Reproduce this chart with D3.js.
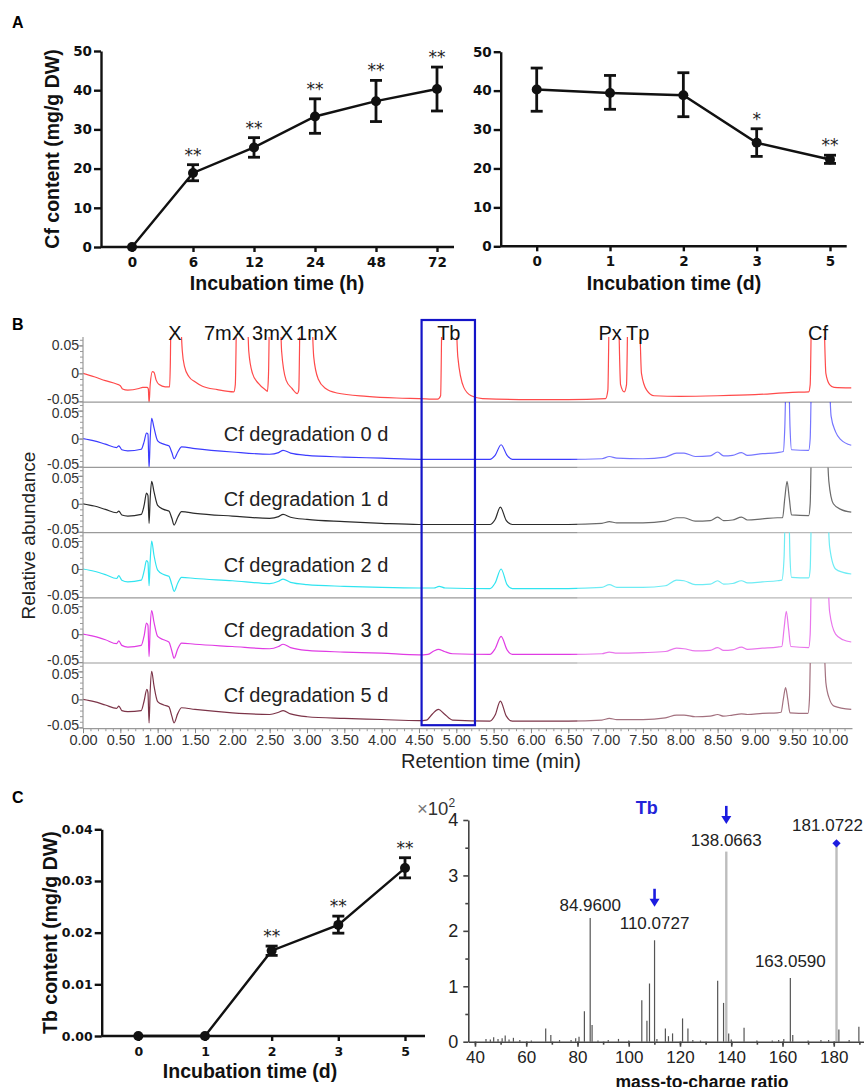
<!DOCTYPE html>
<html>
<head>
<meta charset="utf-8">
<script src="https://d3js.org/d3.v7.min.js"></script>
<style>
  body { margin: 0; background: #fff; }
  svg { display: block; background: #fff; }
</style>
</head>
<body>
<script>
// ===== DATA =====
// Panel A, left: Cf content over hours
const hourCats  = ['0', '6', '12', '24', '48', '72'];
const hourMean  = [0, 18.9, 25.4, 33.3, 37.2, 40.3];
const hourLow   = [0, 16.9, 22.9, 29.0, 32.0, 34.7];
const hourHigh  = [0, 21.0, 27.9, 37.8, 42.5, 45.9];
const hourStars = ['', '**', '**', '**', '**', '**'];

// Panel A, right: Cf content over days (degradation)
const dayCats   = ['0', '1', '2', '3', '5'];
const cfDayMean = [40.3, 39.4, 38.8, 26.6, 22.3];
const cfDayLow  = [34.7, 35.2, 33.3, 23.1, 21.3];
const cfDayHigh = [45.8, 43.9, 44.6, 30.2, 23.4];
const cfDayStars = ['', '', '', '*', '**'];

// Panel C, left: Tb content over days
const tbDayMean = [0, 0, 0.0165, 0.0215, 0.0325];
const tbDayLow  = [0, 0, 0.0156, 0.0199, 0.0306];
const tbDayHigh = [0, 0, 0.0174, 0.0232, 0.0345];
const tbDayStars = ['', '', '**', '**', '**'];

// Panel B: chromatograms [retention time (min), relative abundance]
const traceNames = ['', 'Cf degradation 0 d', 'Cf degradation 1 d', 'Cf degradation 2 d', 'Cf degradation 3 d', 'Cf degradation 5 d'];
const traceColors = ['#ff4a4a', '#3c3cff', '#2b2b2b', '#30e4f0', '#e03ce4', '#7c3448'];
const stdTrace = [
  [0,0],[0.15,-0.006],[0.3,-0.013],[0.45,-0.019],[0.5,-0.022],[0.53,-0.028],[0.6,-0.03],[0.75,-0.027],[0.8,-0.025],
  [0.86,-0.025],[0.875,-0.028],[0.885,-0.053],[0.9,-0.02],[0.93,0.003],[0.95,0.002],[0.98,-0.012],[1.02,-0.02],
  [1.1,-0.024],[1.16,-0.024],[1.17,0.02],[1.18,0.12],[1.24,0.2],[1.3,0.12],[1.33,0.04],[1.36,0.012],[1.42,-0.006],
  [1.5,-0.015],[1.6,-0.023],[1.8,-0.029],[2.02,-0.033],[2.04,-0.02],[2.06,0.12],[2.13,0.2],[2.2,0.12],[2.22,0.04],
  [2.27,0.0],[2.35,-0.018],[2.45,-0.03],[2.47,-0.032],[2.485,0.0],[2.5,0.12],[2.57,0.2],[2.64,0.12],[2.66,0.04],
  [2.72,-0.012],[2.8,-0.027],[2.87,-0.036],[2.89,-0.03],[2.91,0.12],[2.98,0.2],[3.06,0.12],[3.09,0.03],[3.15,-0.01],
  [3.25,-0.027],[3.4,-0.035],[3.8,-0.041],[4.2,-0.044],[4.5,-0.045],[4.75,-0.046],[4.79,-0.04],[4.81,0.12],[4.9,0.2],
  [4.99,0.12],[5.02,0.03],[5.1,-0.025],[5.2,-0.04],[5.35,-0.045],[6.0,-0.047],[6.5,-0.047],[7.0,-0.045],[7.03,-0.03],
  [7.05,0.12],[7.11,0.2],[7.17,0.12],[7.2,-0.02],[7.25,-0.033],[7.28,-0.02],[7.3,0.12],[7.38,0.2],[7.45,0.12],
  [7.48,0.0],[7.55,-0.03],[7.65,-0.04],[8.0,-0.041],[8.5,-0.04],[9.0,-0.038],[9.5,-0.034],[9.72,-0.033],[9.74,-0.02],
  [9.76,0.12],[9.85,0.2],[9.92,0.12],[9.95,0.0],[10.0,-0.02],[10.06,-0.025],[10.29,-0.026]
];
const day0Trace = [
  [0,0],[0.15,-0.004],[0.3,-0.01],[0.45,-0.016],[0.48,-0.013],[0.52,-0.02],[0.6,-0.022],[0.78,-0.019],[0.82,-0.005],
  [0.85,0.01],[0.87,0.008],[0.885,-0.053],[0.9,0.0],[0.92,0.036],[0.95,0.02],[1.0,-0.004],[1.08,-0.01],[1.15,-0.013],
  [1.19,-0.025],[1.22,-0.036],[1.27,-0.024],[1.32,-0.015],[1.5,-0.018],[2.0,-0.024],[2.5,-0.028],[2.62,-0.025],
  [2.68,-0.021],[2.78,-0.026],[3.0,-0.03],[3.5,-0.033],[4.0,-0.035],[4.5,-0.037],[5.0,-0.037],[5.45,-0.037],
  [5.52,-0.03],[5.6,-0.011],[5.68,-0.03],[5.75,-0.037],[6.5,-0.037],[6.95,-0.036],[7.05,-0.032],[7.15,-0.035],
  [7.5,-0.036],[7.8,-0.033],[7.95,-0.026],[8.05,-0.026],[8.2,-0.032],[8.4,-0.031],[8.5,-0.024],[8.58,-0.031],
  [8.7,-0.03],[8.82,-0.025],[8.9,-0.03],[9.1,-0.027],[9.3,-0.025],[9.38,-0.023],[9.4,0.02],[9.42,0.12],[9.45,0.12],
  [9.47,0.02],[9.49,-0.02],[9.72,-0.021],[9.74,0.0],[9.76,0.12],[9.9,0.2],[9.99,0.12],[10.02,0.04],[10.08,0.012],
  [10.15,-0.002],[10.29,-0.012]
];
const day1Trace = [
  [0,0],[0.15,-0.004],[0.3,-0.01],[0.45,-0.016],[0.48,-0.013],[0.52,-0.02],[0.6,-0.022],[0.78,-0.019],[0.82,-0.002],
  [0.85,0.019],[0.87,0.015],[0.885,-0.035],[0.9,0.01],[0.92,0.04],[0.95,0.022],[1.0,-0.003],[1.08,-0.01],[1.15,-0.013],
  [1.19,-0.026],[1.22,-0.038],[1.27,-0.024],[1.32,-0.014],[1.5,-0.017],[2.0,-0.022],[2.5,-0.026],[2.62,-0.023],
  [2.68,-0.019],[2.78,-0.024],[3.0,-0.028],[3.5,-0.032],[4.0,-0.035],[4.5,-0.037],[5.0,-0.037],[5.45,-0.037],
  [5.52,-0.028],[5.59,-0.006],[5.67,-0.03],[5.75,-0.037],[6.5,-0.037],[6.95,-0.035],[7.05,-0.032],[7.15,-0.034],
  [7.5,-0.034],[7.8,-0.031],[7.95,-0.025],[8.05,-0.025],[8.2,-0.031],[8.4,-0.03],[8.5,-0.024],[8.58,-0.03],
  [8.7,-0.029],[8.82,-0.024],[8.9,-0.029],[9.1,-0.027],[9.3,-0.025],[9.37,-0.025],[9.4,0.01],[9.43,0.04],[9.46,0.01],
  [9.49,-0.02],[9.72,-0.021],[9.74,0.0],[9.76,0.12],[9.88,0.2],[9.96,0.12],[9.99,0.04],[10.05,0.0],[10.15,-0.01],
  [10.29,-0.015]
];
const day2Trace = [
  [0,0],[0.15,-0.004],[0.3,-0.01],[0.45,-0.017],[0.48,-0.012],[0.52,-0.02],[0.6,-0.023],[0.78,-0.02],[0.82,-0.003],
  [0.85,0.015],[0.87,0.012],[0.885,-0.03],[0.9,0.015],[0.92,0.05],[0.95,0.025],[1.0,-0.002],[1.08,-0.01],[1.15,-0.013],
  [1.19,-0.028],[1.22,-0.04],[1.27,-0.025],[1.32,-0.015],[1.5,-0.017],[2.0,-0.021],[2.5,-0.026],[2.62,-0.022],
  [2.68,-0.018],[2.78,-0.024],[3.0,-0.028],[3.5,-0.031],[4.0,-0.033],[4.5,-0.034],[4.7,-0.034],[4.77,-0.031],
  [4.85,-0.034],[5.45,-0.035],[5.52,-0.025],[5.6,0.0],[5.68,-0.028],[5.75,-0.035],[6.5,-0.035],[6.95,-0.033],
  [7.05,-0.028],[7.15,-0.033],[7.5,-0.033],[7.8,-0.03],[7.95,-0.02],[8.05,-0.021],[8.2,-0.028],[8.4,-0.027],
  [8.5,-0.021],[8.58,-0.027],[8.7,-0.026],[8.82,-0.021],[8.9,-0.025],[9.1,-0.023],[9.3,-0.021],[9.36,-0.02],
  [9.39,0.02],[9.41,0.12],[9.45,0.12],[9.47,0.02],[9.49,-0.015],[9.72,-0.016],[9.74,0.0],[9.76,0.12],[9.88,0.2],
  [9.97,0.12],[10.0,0.04],[10.08,0.0],[10.18,-0.006],[10.29,-0.009]
];
const day3Trace = [
  [0,0],[0.15,-0.004],[0.3,-0.01],[0.45,-0.017],[0.48,-0.012],[0.52,-0.02],[0.6,-0.023],[0.78,-0.02],[0.82,-0.002],
  [0.85,0.02],[0.87,0.016],[0.885,-0.04],[0.9,0.012],[0.92,0.042],[0.95,0.022],[1.0,-0.004],[1.08,-0.01],[1.15,-0.014],
  [1.19,-0.03],[1.22,-0.043],[1.27,-0.026],[1.32,-0.016],[1.5,-0.018],[2.0,-0.022],[2.5,-0.026],[2.62,-0.022],
  [2.68,-0.018],[2.78,-0.024],[3.0,-0.029],[3.5,-0.032],[4.0,-0.034],[4.5,-0.037],[4.62,-0.036],[4.7,-0.03],
  [4.76,-0.027],[4.84,-0.031],[4.95,-0.035],[5.45,-0.036],[5.52,-0.026],[5.6,-0.004],[5.68,-0.028],[5.75,-0.036],
  [6.5,-0.036],[6.95,-0.035],[7.05,-0.032],[7.15,-0.034],[7.5,-0.033],[7.8,-0.031],[7.95,-0.025],[8.05,-0.026],
  [8.2,-0.03],[8.4,-0.029],[8.5,-0.024],[8.58,-0.029],[8.7,-0.028],[8.82,-0.023],[8.9,-0.027],[9.1,-0.025],
  [9.3,-0.023],[9.36,-0.022],[9.39,0.01],[9.42,0.041],[9.45,0.01],[9.48,-0.022],[9.72,-0.024],[9.74,0.0],[9.76,0.12],
  [9.88,0.2],[9.97,0.12],[10.0,0.04],[10.08,0.0],[10.18,-0.01],[10.29,-0.014]
];
const day5Trace = [
  [0,0],[0.15,-0.004],[0.3,-0.01],[0.45,-0.016],[0.48,-0.012],[0.52,-0.02],[0.6,-0.022],[0.78,-0.02],[0.82,-0.002],
  [0.855,0.018],[0.87,0.012],[0.885,-0.042],[0.9,0.015],[0.92,0.05],[0.95,0.025],[1.0,-0.004],[1.08,-0.01],
  [1.15,-0.013],[1.19,-0.03],[1.22,-0.042],[1.27,-0.025],[1.32,-0.015],[1.5,-0.018],[2.0,-0.024],[2.5,-0.027],
  [2.62,-0.023],[2.68,-0.02],[2.78,-0.026],[3.0,-0.031],[3.5,-0.034],[4.0,-0.036],[4.5,-0.038],[4.6,-0.037],
  [4.68,-0.026],[4.76,-0.018],[4.84,-0.026],[4.95,-0.037],[5.45,-0.039],[5.52,-0.028],[5.59,-0.003],[5.67,-0.03],
  [5.75,-0.039],[6.5,-0.039],[6.95,-0.037],[7.05,-0.034],[7.15,-0.036],[7.5,-0.036],[7.8,-0.033],[7.95,-0.028],
  [8.05,-0.028],[8.2,-0.031],[8.4,-0.03],[8.5,-0.027],[8.58,-0.03],[8.7,-0.028],[8.82,-0.026],[8.9,-0.027],
  [9.1,-0.025],[9.3,-0.024],[9.35,-0.023],[9.38,0.0],[9.41,0.021],[9.44,0.0],[9.47,-0.024],[9.71,-0.025],[9.73,0.0],
  [9.75,0.12],[9.84,0.2],[9.92,0.12],[9.95,0.03],[10.0,0.0],[10.06,-0.012],[10.29,-0.018]
];
const traces = [stdTrace, day0Trace, day1Trace, day2Trace, day3Trace, day5Trace];
const peakLabels = ['X', '7mX', '3mX', '1mX', 'Tb', 'Px', 'Tp', 'Cf'];
const peakLabelTimes = [1.23, 1.895, 2.54, 3.13, 4.9, 7.06, 7.43, 9.845];
const tbWindow = [4.535, 5.25];

// Panel C, right: MS/MS spectrum of Tb (intensity x10^2)
const specMz  = [44.3, 46, 47.3, 49, 50.6, 51.8, 53.3, 55, 57.5, 62, 67.6, 69.6, 73, 77.5, 79.3, 80.6, 82.7, 84.96,
                 85.7, 88, 92, 96, 100, 105.1, 107.1, 108.1, 110.0727, 111, 114.3, 115.5, 117.1, 121, 123.1, 125, 128,
                 134.7, 137, 138.0663, 139, 140, 145, 150, 156, 158.5, 160.5, 163.059, 164, 170, 175, 178, 181.0722,
                 182, 186, 189.8];
const specInt = [0.05, 0.04, 0.08, 0.05, 0.06, 0.11, 0.04, 0.07, 0.03, 0.02, 0.24, 0.12, 0.03, 0.03, 0.06, 0.09, 0.55,
                 2.23, 0.3, 0.02, 0.03, 0.05, 0.02, 0.75, 0.38, 1.05, 1.83, 0.05, 0.24, 0.1, 0.15, 0.42, 0.24, 0.03,
                 0.02, 1.1, 0.7, 3.43, 0.15, 0.04, 0.25, 0.02, 0.02, 0.03, 0.05, 1.15, 0.12, 0.02, 0.03, 0.03, 3.55,
                 0.22, 0.03, 0.27];
const specLabels   = ['84.9600', '110.0727', '138.0663', '163.0590', '181.0722'];
const specLabelMz  = [84.96, 110.0727, 138.0663, 163.059, 181.0722];
const specLabelInt = [2.23, 1.83, 3.43, 1.15, 3.55];
const arrowMz = [110.0727, 138.0663];
const precursorMz = 181.0722, precursorInt = 3.58;

// ===== DRAWING =====
const W = 864, H = 1087;
const SANS = '"Liberation Sans", Arial, sans-serif';
const WIDE = '"DejaVu Sans", sans-serif';
const svg = d3.select('body').append('svg').attr('width', W).attr('height', H);

function panelLabel(t, x, y) {
  svg.append('text').text(t).attr('x', x).attr('y', y)
    .attr('font-family', SANS).attr('font-weight', 'bold').attr('font-size', 16).attr('fill', '#000');
}

// GraphPad-style mean ± error time course
function timeCourse(o) {
  const x = d3.scalePoint().domain(o.cats).range(o.xRange);
  const y = d3.scaleLinear().domain(o.yDomain).range(o.yRange);
  const g = svg.append('g');
  const y0 = y(o.yDomain[0]);

  const yAxis = g.append('g').attr('transform', `translate(${o.axisX},0)`)
    .call(d3.axisLeft(y).tickValues(o.yTicks).tickFormat(o.yFormat).tickSize(7).tickSizeOuter(0));
  const xAxis = g.append('g').attr('transform', `translate(0,${y0})`)
    .call(d3.axisBottom(x).tickSize(5).tickSizeOuter(0));
  xAxis.select('.domain').remove();
  g.append('line')
    .attr('x1', o.axisX).attr('x2', o.axisEnd).attr('y1', y0).attr('y2', y0)
    .attr('stroke', '#111').attr('stroke-width', 2.4);
  [yAxis, xAxis].forEach(a => {
    a.selectAll('.domain, .tick line').attr('stroke', '#111').attr('stroke-width', 2.4);
    a.selectAll('.tick text')
      .attr('font-family', WIDE).attr('font-weight', 'bold')
      .attr('font-size', o.tickFont).attr('fill', '#111');
  });
  yAxis.selectAll('.tick text').attr('x', -9);
  xAxis.selectAll('.tick text').attr('dy', null).attr('y', 19.5);

  const rows = o.cats.map((c, i) => ({ c, m: o.mean[i], lo: o.low[i], hi: o.high[i], s: o.stars[i] }));

  g.append('path').datum(rows)
    .attr('d', d3.line().x(d => x(d.c)).y(d => y(d.m)))
    .attr('fill', 'none').attr('stroke', '#111').attr('stroke-width', 2.4);

  const bars = g.append('g').selectAll('g')
    .data(rows.filter(d => d.hi > d.lo)).join('g')
    .attr('stroke', '#111').attr('stroke-width', 2.8);
  bars.append('line').attr('x1', d => x(d.c)).attr('x2', d => x(d.c))
    .attr('y1', d => y(d.lo)).attr('y2', d => y(d.hi));
  bars.append('line').attr('x1', d => x(d.c) - 6).attr('x2', d => x(d.c) + 6)
    .attr('y1', d => y(d.lo)).attr('y2', d => y(d.lo));
  bars.append('line').attr('x1', d => x(d.c) - 6).attr('x2', d => x(d.c) + 6)
    .attr('y1', d => y(d.hi)).attr('y2', d => y(d.hi));

  g.append('g').selectAll('circle').data(rows).join('circle')
    .attr('cx', d => x(d.c)).attr('cy', d => y(d.m)).attr('r', 5).attr('fill', '#111');

  g.append('g').selectAll('text').data(rows.filter(d => d.s)).join('text')
    .text(d => d.s)
    .attr('x', d => x(d.c)).attr('y', d => y(d.hi) - 4)
    .attr('text-anchor', 'middle').attr('font-family', WIDE).attr('font-size', 17).attr('fill', '#222');

  g.append('text').text(o.xTitle)
    .attr('x', o.xTitleX).attr('y', o.xTitleY).attr('text-anchor', 'middle')
    .attr('font-family', SANS).attr('font-weight', 'bold').attr('font-size', 19.5).attr('fill', '#111');
  if (o.yTitle) {
    g.append('text').text(o.yTitle)
      .attr('transform', `translate(${o.yTitleX},${(o.yRange[0] + o.yRange[1]) / 2}) rotate(-90)`)
      .attr('text-anchor', 'middle')
      .attr('font-family', SANS).attr('font-weight', 'bold').attr('font-size', 19.5).attr('fill', '#111');
  }
}

// ---- Panel A ----
panelLabel('A', 12, 28);
timeCourse({
  cats: hourCats, mean: hourMean, low: hourLow, high: hourHigh, stars: hourStars,
  xRange: [132, 437], yDomain: [0, 50], yRange: [247, 51], axisX: 101, axisEnd: 454,
  yTicks: [0, 10, 20, 30, 40, 50], yFormat: d3.format('d'), tickFont: 13.5,
  xTitle: 'Incubation time (h)', xTitleX: 277, xTitleY: 290,
  yTitle: 'Cf content (mg/g DW)', yTitleX: 59
});
timeCourse({
  cats: dayCats, mean: cfDayMean, low: cfDayLow, high: cfDayHigh, stars: cfDayStars,
  xRange: [536.7, 830], yDomain: [0, 50], yRange: [246.3, 51.7], axisX: 500.7, axisEnd: 846.7,
  yTicks: [0, 10, 20, 30, 40, 50], yFormat: d3.format('d'), tickFont: 13.5,
  xTitle: 'Incubation time (d)', xTitleX: 674, xTitleY: 289.5
});

// ---- Panel B ----
panelLabel('B', 12, 330);
const rtX = d3.scaleLinear().domain([0, 10.3]).range([83, 852]);
const stripTop = 337, stripH = 65.2;
const bottomY = stripTop + traces.length * stripH;
const gB = svg.append('g');
const defs = svg.append('defs');
const fmtAbund = d => d === 0 ? '0' : (d < 0 ? '-' : '') + Math.abs(d).toFixed(2);

traces.forEach((tr, i) => {
  const top = stripTop + i * stripH, bottom = top + stripH;
  const yS = d3.scaleLinear().domain([-0.0515, 0.065]).range([bottom, top]);
  defs.append('clipPath').attr('id', `strip-${i}`)
    .append('rect').attr('x', 83).attr('y', top).attr('width', 769).attr('height', stripH);

  gB.append('path').datum(tr)
    .attr('clip-path', `url(#strip-${i})`)
    .attr('d', d3.line().x(d => rtX(d[0])).y(d => yS(d[1])).curve(d3.curveMonotoneX))
    .attr('fill', 'none').attr('stroke', traceColors[i]).attr('stroke-width', 1.2);

  // minor + major ticks
  const minor = gB.append('g').attr('transform', 'translate(83,0)')
    .call(d3.axisLeft(yS).tickValues(d3.range(-5, 7).map(k => k / 100)).tickSize(3).tickFormat(''));
  minor.select('.domain').remove();
  minor.selectAll('line').attr('stroke', '#999');
  const major = gB.append('g').attr('transform', 'translate(83,0)')
    .call(d3.axisLeft(yS).tickValues([-0.05, 0, 0.05]).tickSize(5).tickFormat(fmtAbund));
  major.select('.domain').remove();
  major.selectAll('line').attr('stroke', '#888');
  major.selectAll('text').attr('x', -4).attr('font-family', SANS).attr('font-size', 14).attr('fill', '#333');
  // the bottom label sits a touch higher so it only brushes the next strip's top label
  major.selectAll('text').filter(d => d < 0).attr('dy', '0.15em');
  major.selectAll('text').filter(d => d > 0 && i > 0).attr('dy', '0.5em');

  if (i < traces.length - 1) {
    gB.append('line').attr('x1', 83).attr('x2', 852).attr('y1', bottom).attr('y2', bottom)
      .attr('stroke', '#9a9a9a').attr('stroke-width', 1.2);
  }
  if (traceNames[i]) {
    gB.append('text').text(traceNames[i]).attr('x', 306).attr('y', top + 39)
      .attr('text-anchor', 'middle').attr('font-family', SANS).attr('font-size', 20).attr('fill', '#222');
  }
});

// washed-out right part of the sample traces (as in the scanned figure)
gB.append('rect').attr('x', rtX(6.62)).attr('y', stripTop + stripH + 1)
  .attr('width', 852 - rtX(6.62)).attr('height', bottomY - stripTop - stripH - 1)
  .attr('fill', '#fff').attr('opacity', 0.3);

gB.append('line').attr('x1', 83).attr('x2', 83).attr('y1', stripTop).attr('y2', bottomY)
  .attr('stroke', '#999').attr('stroke-width', 1.2);

const rtMinor = gB.append('g').attr('transform', `translate(0,${bottomY})`)
  .call(d3.axisBottom(rtX).tickValues(d3.range(0, 103).map(k => k / 10)).tickSize(3).tickFormat(''));
rtMinor.select('.domain').remove();
rtMinor.selectAll('line').attr('stroke', '#999');
const rtAxis = gB.append('g').attr('transform', `translate(0,${bottomY})`)
  .call(d3.axisBottom(rtX).tickValues(d3.range(0, 21).map(k => k / 2)).tickSize(5).tickSizeOuter(0)
    .tickFormat(d => d.toFixed(2)));
rtAxis.select('.domain').attr('stroke', '#999').attr('stroke-width', 1.2);
rtAxis.selectAll('line').attr('stroke', '#888');
rtAxis.selectAll('text').attr('dy', null).attr('y', 17.3)
  .attr('font-family', SANS).attr('font-size', 14.5).attr('fill', '#333');

gB.append('text').text('Retention time (min)').attr('x', 491).attr('y', 768)
  .attr('text-anchor', 'middle').attr('font-family', SANS).attr('font-size', 20).attr('fill', '#222');
gB.append('text').text('Relative abundance')
  .attr('transform', `translate(35,${(stripTop + bottomY) / 2 + 3}) rotate(-90)`)
  .attr('text-anchor', 'middle').attr('font-family', SANS).attr('font-size', 19).attr('fill', '#222');

gB.selectAll('text.peak').data(peakLabels).join('text').attr('class', 'peak')
  .text(d => d)
  .attr('x', (d, i) => rtX(peakLabelTimes[i])).attr('y', 340)
  .attr('text-anchor', 'middle').attr('font-family', SANS).attr('font-size', 20).attr('fill', '#111');

gB.append('rect')
  .attr('x', rtX(tbWindow[0])).attr('y', 320)
  .attr('width', rtX(tbWindow[1]) - rtX(tbWindow[0])).attr('height', bottomY - 3 - 320)
  .attr('fill', 'none').attr('stroke', '#1414c8').attr('stroke-width', 2.2);

// ---- Panel C ----
panelLabel('C', 12, 803);
timeCourse({
  cats: dayCats, mean: tbDayMean, low: tbDayLow, high: tbDayHigh, stars: tbDayStars,
  xRange: [138.3, 405], yDomain: [0, 0.04], yRange: [1036, 829.3], axisX: 101.7, axisEnd: 425,
  yTicks: [0, 0.01, 0.02, 0.03, 0.04], yFormat: d3.format('.2f'), tickFont: 12.5,
  xTitle: 'Incubation time (d)', xTitleX: 250, xTitleY: 1078,
  yTitle: 'Tb content (mg/g DW)', yTitleX: 57
});

// mass spectrum
const mzX = d3.scaleLinear().domain([37.4, 191.8]).range([468.3, 864]);
const intY = d3.scaleLinear().domain([0, 4]).range([1041.7, 820]);
const gS = svg.append('g');

const specRows = specMz.map((m, i) => ({ m, v: specInt[i] }));
gS.append('g').selectAll('line').data(specRows).join('line')
  .attr('x1', d => mzX(d.m)).attr('x2', d => mzX(d.m))
  .attr('y1', intY(0)).attr('y2', d => intY(d.v))
  .attr('stroke', d => d.v > 3 ? '#bdbdbd' : '#555')
  .attr('stroke-width', d => d.v > 3 ? 2.4 : 1.2);

const mzMinor = gS.append('g').attr('transform', `translate(0,${intY(0)})`)
  .call(d3.axisBottom(mzX).tickValues(d3.range(40, 192, 10)).tickSize(3).tickFormat(''));
mzMinor.select('.domain').remove();
const mzAxis = gS.append('g').attr('transform', `translate(0,${intY(0)})`)
  .call(d3.axisBottom(mzX).tickValues(d3.range(40, 181, 20)).tickSize(5).tickSizeOuter(0));
const intMinor = gS.append('g').attr('transform', `translate(${mzX.range()[0]},0)`)
  .call(d3.axisLeft(intY).tickValues([0.5, 1.5, 2.5, 3.5]).tickSize(3).tickFormat(''));
intMinor.select('.domain').remove();
const intAxis = gS.append('g').attr('transform', `translate(${mzX.range()[0]},0)`)
  .call(d3.axisLeft(intY).tickValues([0, 1, 2, 3, 4]).tickSize(5).tickSizeOuter(0).tickFormat(d3.format('d')));
[mzMinor, mzAxis, intMinor, intAxis].forEach(a => {
  a.selectAll('.domain, line').attr('stroke', '#444').attr('stroke-width', 1.6);
});
mzAxis.selectAll('text').attr('dy', null).attr('y', 21.6)
  .attr('font-family', SANS).attr('font-size', 17).attr('fill', '#222');
intAxis.selectAll('text').attr('x', -10)
  .attr('font-family', SANS).attr('font-size', 18).attr('fill', '#222');

const scaleNote = gS.append('text').attr('x', 417).attr('y', 815)
  .attr('font-family', SANS).attr('font-size', 18.5).attr('fill', '#333');
scaleNote.append('tspan').text('×').attr('fill', '#777');
scaleNote.append('tspan').text('10');
scaleNote.append('tspan').text('2').attr('font-size', 12).attr('dy', -8);

gS.append('text').text('mass-to-charge ratio').attr('x', 702).attr('y', 1088)
  .attr('text-anchor', 'middle').attr('font-family', SANS).attr('font-weight', 'bold')
  .attr('font-size', 17.5).attr('fill', '#111');

gS.append('text').text('Tb').attr('x', 646.7).attr('y', 813.5)
  .attr('text-anchor', 'middle').attr('font-family', SANS).attr('font-weight', 'bold')
  .attr('font-size', 18).attr('fill', '#2323d8');

const labelGap = [7, 11.5, 5.7, 11, 13.7];
const specText = gS.append('g').selectAll('text').data(specLabels).join('text')
  .text(d => d)
  .attr('x', (d, i) => mzX(specLabelMz[i])).attr('y', (d, i) => intY(specLabelInt[i]) - labelGap[i])
  .attr('text-anchor', 'middle').attr('font-family', SANS).attr('font-size', 17).attr('fill', '#222');
// keep the last label inside the right edge
specText.each(function () {
  const el = d3.select(this);
  const w = this.getComputedTextLength();
  const cx = +el.attr('x');
  if (cx + w / 2 > W - 1) el.attr('x', W - 1 - w / 2);
});

arrowMz.forEach(m => {
  const i = specLabelMz.indexOf(m);
  const tipY = intY(specLabelInt[i]) - labelGap[i] - 22;
  const ax = mzX(m);
  gS.append('line').attr('x1', ax).attr('x2', ax).attr('y1', tipY - 18).attr('y2', tipY - 6)
    .attr('stroke', '#1c1ce0').attr('stroke-width', 2.6);
  gS.append('path')
    .attr('d', `M${ax - 5},${tipY - 8}L${ax + 5},${tipY - 8}L${ax},${tipY}Z`)
    .attr('fill', '#1c1ce0');
});

gS.append('path')
  .attr('d', d3.symbol(d3.symbolSquare, 34)())
  .attr('transform', `translate(${mzX(precursorMz)},${intY(precursorInt)}) rotate(45)`)
  .attr('fill', '#1c1ce0');
</script>
</body>
</html>
